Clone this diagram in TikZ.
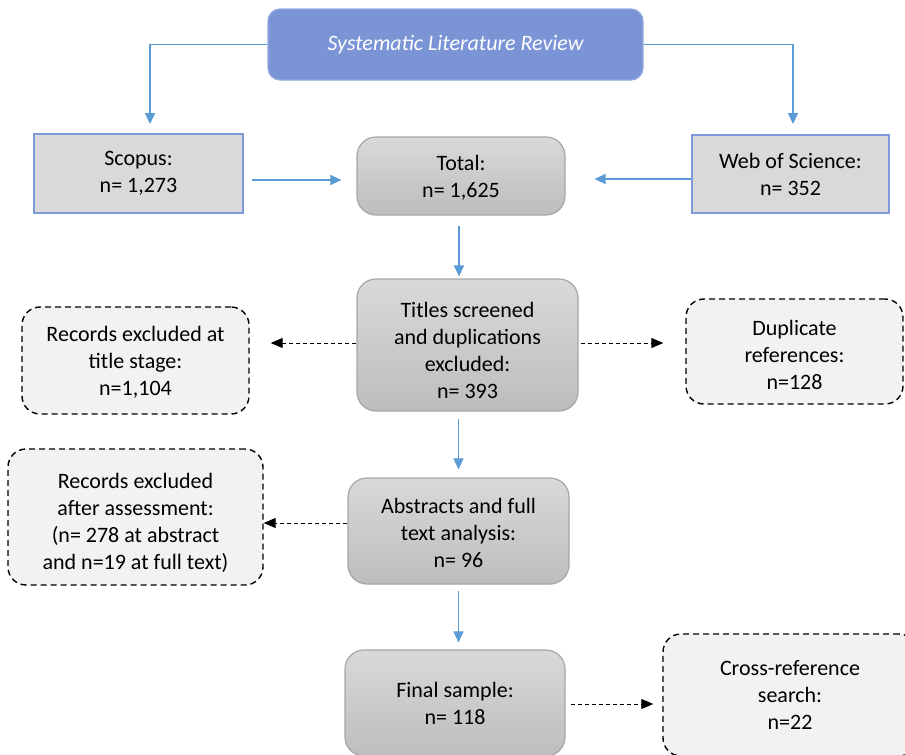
\documentclass[tikz,border=0pt]{standalone}
\usepackage{fontspec}
\setmainfont{Carlito}
\usetikzlibrary{arrows.meta, positioning}

\definecolor{slrfill}{HTML}{7A94D6}
\definecolor{slrline}{HTML}{94A9E0}
\definecolor{srcline}{HTML}{7E9ADB}
\definecolor{srcfill}{HTML}{D9D9D9}
\definecolor{steptop}{HTML}{D9D9D9}
\definecolor{stepbot}{HTML}{BDBDBD}
\definecolor{stepline}{HTML}{A6A6A6}
\definecolor{outfill}{HTML}{F2F2F2}
\definecolor{flowblue}{HTML}{5B9BD5}

\tikzset{
  txt/.style={font=\fontsize{22}{27}\selectfont, align=center, inner sep=0pt},
  tdrop/.style={text height=#1, text depth=0pt},
  slrbox/.style={txt, rounded corners=12pt, fill=slrfill, draw=slrline, line width=1.2pt, text=white},
  srcbox/.style={txt, fill=srcfill, draw=srcline, line width=2pt},
  stepbox/.style={txt, rounded corners=19pt, top color=steptop, bottom color=stepbot, draw=stepline, line width=1.2pt},
  outbox/.style={txt, rounded corners=18pt, fill=outfill, draw=black, line width=1.4pt, dash pattern=on 6pt off 4pt},
  flow/.style={draw=flowblue, line width=1.3pt, -{Triangle[length=11pt, width=10pt]}},
  skip/.style={draw=black, line width=1pt, dash pattern=on 4pt off 3pt, -{Triangle[length=12pt, width=10pt]}}
}

\begin{document}
\begin{tikzpicture}[x=1pt, y=-1pt]

  % Picture frame
  \clip (0,0) rectangle (905,755);
  \fill[white] (0,0) rectangle (905,755);

  % Top and sources
  \node[slrbox, minimum width=375pt, minimum height=71pt] (slr) at (455.5,44.5) {\itshape Systematic Literature Review};
  \node[srcbox, minimum width=209pt, minimum height=79pt] (scopus) at (138.5,173.5) {Scopus:\\n= 1,273};
  \node[stepbox, tdrop=42.5pt, minimum width=208pt, minimum height=78pt] (total) at (461,176) {Total:\\n= 1,625};
  \node[srcbox, minimum width=197pt, minimum height=78pt] (wos) at (790.5,174) {Web of Science:\\n= 352};

  % Screening steps
  \node[stepbox, tdrop=107pt, minimum width=221pt, minimum height=132pt] (titles) at (467.5,345) {Titles screened\\and duplications\\excluded:\\n= 393};
  \node[stepbox, tdrop=72.5pt, minimum width=221pt, minimum height=106pt] (abstracts) at (458.5,531) {Abstracts and full\\text analysis:\\n= 96};
  \node[stepbox, minimum width=220pt, minimum height=106pt] (final) at (455,703) {Final sample:\\n= 118};

  % Side boxes
  \node[outbox, tdrop=70pt, minimum width=227pt, minimum height=107pt] (recA) at (135.5,360.5) {Records excluded at\\title stage:\\n=1,104};
  \node[outbox, tdrop=75.5pt, minimum width=217pt, minimum height=105pt] (dup) at (794.5,351.5) {Duplicate\\references:\\n=128};
  \node[outbox, tdrop=104pt, minimum width=255pt, minimum height=136pt] (recB) at (135.5,517) {Records excluded\\after assessment:\\(n= 278 at abstract\\and n=19 at full text)};
  \node[outbox, minimum width=254pt, minimum height=122pt] (cross) at (790,695) {Cross-reference\\search:\\n=22};

  % Blue flow
  \draw[flow, shorten >=9pt] (slr.west) -| ([xshift=11.5pt]scopus.north);
  \draw[flow, shorten >=10pt] (slr.east) -| ([xshift=2.5pt]wos.north);
  \draw[flow, shorten <=8pt, shorten >=15pt] ([yshift=-6.5pt]scopus.east) -- ([yshift=-6.5pt]scopus.east -| total.west);
  \draw[flow, shorten >=29pt] ([yshift=-5pt]wos.west) -- ([yshift=-5pt]wos.west -| total.east);
  \draw[flow, shorten <=10pt, shorten >=2pt] ([xshift=-2pt]total.south) -- ([xshift=-2pt]total.south |- titles.north);
  \draw[flow, shorten <=7pt, shorten >=8pt] (abstracts.north |- titles.south) -- (abstracts.north);
  \draw[flow, shorten <=6pt, shorten >=7pt] (abstracts.south) -- (abstracts.south |- final.north);

  % Dashed exclusions
  \draw[skip, shorten >=21pt] ([yshift=2pt]titles.west) -- ([yshift=2pt]titles.west -| recA.east);
  \draw[skip, shorten <=2pt, shorten >=22pt] ([yshift=2pt]titles.east) -- ([yshift=2pt]titles.east -| dup.west);
  \draw[skip] ([yshift=8pt]abstracts.west) -- ([yshift=8pt]abstracts.west -| recB.east);
  \draw[skip, shorten <=5pt, shorten >=9pt] ([yshift=-1pt]final.east) -- ([yshift=-1pt]final.east -| cross.west);

\end{tikzpicture}
\end{document}
